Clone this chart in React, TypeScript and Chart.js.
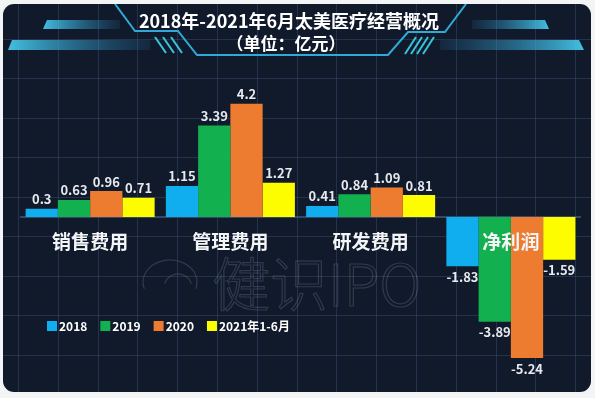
import React, { useEffect, useRef } from "react";
import { Chart, registerables } from "chart.js";

Chart.register(...registerables);

const categories = ["销售费用", "管理费用", "研发费用", "净利润"];
const seriesNames = ["2018", "2019", "2020", "2021年1-6月"];
const values2018 = [0.3, 1.15, 0.41, -1.83];
const values2019 = [0.63, 3.39, 0.84, -3.89];
const values2020 = [0.96, 4.2, 1.09, -5.24];
const values2021H1 = [0.71, 1.27, 0.81, -1.59];
const seriesColors = ["#10aeee", "#13b04f", "#ed7b30", "#fdfd00"];
const titleText = "2018年-2021年6月太美医疗经营概况";
const subtitleText = "（单位：亿元）";

const FONT = '"Noto Sans CJK SC", "Noto Sans", sans-serif';

function roundRect(ctx: CanvasRenderingContext2D, x: number, y: number, w: number, h: number, r: number) {
  ctx.beginPath();
  ctx.moveTo(x + r, y);
  ctx.lineTo(x + w - r, y);
  ctx.arcTo(x + w, y, x + w, y + r, r);
  ctx.lineTo(x + w, y + h - r);
  ctx.arcTo(x + w, y + h, x + w - r, y + h, r);
  ctx.lineTo(x + r, y + h);
  ctx.arcTo(x, y + h, x, y + h - r, r);
  ctx.lineTo(x, y + r);
  ctx.arcTo(x, y, x + r, y, r);
  ctx.closePath();
}

const backgroundPlugin = {
  id: "bgDecor",
  beforeDraw(chart: any) {
    const ctx: CanvasRenderingContext2D = chart.ctx;
    const W = chart.width;
    const H = chart.height;
    ctx.save();
    ctx.fillStyle = "#f3f4f6";
    ctx.fillRect(0, 0, W, H);
    roundRect(ctx, 3, 4, W - 7, H - 10, 11);
    ctx.fillStyle = "#111a2b";
    ctx.fill();
    ctx.save();
    ctx.clip();
    // grid
    ctx.strokeStyle = "rgba(60,82,120,0.45)";
    ctx.lineWidth = 1;
    for (let x = 18; x < W; x += 39.8) {
      ctx.beginPath();
      ctx.moveTo(Math.round(x) + 0.5, 0);
      ctx.lineTo(Math.round(x) + 0.5, H);
      ctx.stroke();
    }
    for (let y = 38.5; y < H; y += 39.5) {
      ctx.beginPath();
      ctx.moveTo(0, Math.round(y) + 0.5);
      ctx.lineTo(W, Math.round(y) + 0.5);
      ctx.stroke();
    }
    const barGrad = (x0: number, x1: number, rev: boolean) => {
      const g = ctx.createLinearGradient(x0, 0, x1, 0);
      if (!rev) {
        g.addColorStop(0, "rgba(70,200,235,0.95)");
        g.addColorStop(1, "rgba(40,120,170,0.15)");
      } else {
        g.addColorStop(0, "rgba(40,120,170,0.15)");
        g.addColorStop(1, "rgba(70,200,235,0.95)");
      }
      return g;
    };
    ctx.beginPath();
    ctx.moveTo(47, 20); ctx.lineTo(120, 20); ctx.lineTo(120, 29); ctx.lineTo(43, 29); ctx.closePath();
    ctx.fillStyle = barGrad(43, 120, false); ctx.fill();
    ctx.beginPath();
    ctx.moveTo(12, 40); ctx.lineTo(150, 40); ctx.lineTo(150, 50); ctx.lineTo(8, 50); ctx.closePath();
    ctx.fillStyle = barGrad(8, 150, false); ctx.fill();
    ctx.beginPath();
    ctx.moveTo(472, 20); ctx.lineTo(545, 20); ctx.lineTo(549, 29); ctx.lineTo(472, 29); ctx.closePath();
    ctx.fillStyle = barGrad(472, 549, true); ctx.fill();
    ctx.beginPath();
    ctx.moveTo(440, 40); ctx.lineTo(579, 40); ctx.lineTo(584, 50); ctx.lineTo(440, 50); ctx.closePath();
    ctx.fillStyle = barGrad(440, 584, true); ctx.fill();
    // outline
    ctx.strokeStyle = "#2fa9d6";
    ctx.lineWidth = 2;
    ctx.beginPath();
    ctx.moveTo(115, 4);
    ctx.lineTo(135, 31);
    ctx.lineTo(178, 31);
    ctx.lineTo(197, 55);
    ctx.lineTo(388, 55);
    ctx.lineTo(408, 32);
    ctx.lineTo(445, 32);
    ctx.lineTo(466, 4);
    ctx.stroke();
    ctx.strokeStyle = "#38c4df";
    for (let i = 0; i < 3; i++) {
      const x = 155 + i * 8;
      ctx.beginPath();
      ctx.moveTo(x, 37);
      ctx.lineTo(x + 11, 53);
      ctx.stroke();
    }
    for (let i = 0; i < 4; i++) {
      const x = 416 + i * 6;
      ctx.beginPath();
      ctx.moveTo(x, 37);
      ctx.lineTo(x - 11, 54);
      ctx.stroke();
    }
    // watermark
    ctx.strokeStyle = "rgba(190,205,230,0.18)";
    ctx.lineWidth = 1.2;
    ctx.beginPath();
    ctx.ellipse(170, 282, 27, 22, 0, Math.PI * 0.9, Math.PI * 2.1);
    ctx.stroke();
    ctx.beginPath();
    ctx.arc(178, 288, 14, Math.PI * 1.1, Math.PI * 1.9);
    ctx.stroke();
    ctx.font = `200 58px ${FONT}`;
    ctx.textAlign = "left";
    ctx.textBaseline = "alphabetic";
    ctx.strokeText("健识IPO", 212, 306);
    ctx.restore();

    // title
    ctx.fillStyle = "#ffffff";
    ctx.textAlign = "center";
    ctx.textBaseline = "middle";
    ctx.font = `bold 18px ${FONT}`;
    ctx.fillText(titleText, 289, 21);
    ctx.font = `bold 17px ${FONT}`;
    ctx.fillText(subtitleText, 286, 44);

    const y0 = chart.scales.y.getPixelForValue(0);
    ctx.strokeStyle = "#3f5a80";
    ctx.lineWidth = 1.5;
    ctx.beginPath();
    ctx.moveTo(chart.chartArea.left, y0);
    ctx.lineTo(chart.chartArea.right, y0);
    ctx.stroke();
    ctx.restore();
  },
  afterDatasetsDraw(chart: any) {
    const ctx: CanvasRenderingContext2D = chart.ctx;
    ctx.save();
    ctx.font = `bold 13px ${FONT}`;
    ctx.fillStyle = "#e6e9ee";
    ctx.textAlign = "center";
    chart.data.datasets.forEach((ds: any, di: number) => {
      const meta = chart.getDatasetMeta(di);
      meta.data.forEach((el: any, i: number) => {
        const v = ds.data[i];
        if (v >= 0) {
          ctx.textBaseline = "bottom";
          ctx.fillText(String(v), el.x, el.y - 3);
        } else {
          ctx.textBaseline = "top";
          ctx.fillText(String(v), el.x, el.y + 4);
        }
      });
    });
    const y0 = chart.scales.y.getPixelForValue(0);
    ctx.font = `bold 19px ${FONT}`;
    ctx.fillStyle = "#f4f5f7";
    ctx.textBaseline = "middle";
    categories.forEach((c, i) => {
      const x = chart.scales.x.getPixelForValue(i);
      ctx.fillText(c, x, y0 + 25);
    });
    ctx.font = `bold 12px ${FONT}`;
    ctx.textAlign = "left";
    ctx.textBaseline = "middle";
    let lx = 47;
    const ly = 326;
    chart.data.datasets.forEach((ds: any) => {
      ctx.fillStyle = ds.backgroundColor;
      ctx.fillRect(lx, ly - 5, 10, 10);
      ctx.fillStyle = "#ffffff";
      ctx.fillText(ds.label, lx + 12, ly);
      lx += 12 + ctx.measureText(ds.label).width + 13;
    });
    ctx.restore();
  },
};

export default function App() {
  const ref = useRef<HTMLCanvasElement | null>(null);
  useEffect(() => {
    if (!ref.current) return;
    const seriesValues = [values2018, values2019, values2020, values2021H1];
    const chart = new Chart(ref.current, {
      type: "bar",
      data: {
        labels: categories,
        datasets: seriesNames.map((name, i) => ({
          label: name,
          data: seriesValues[i],
          backgroundColor: seriesColors[i],
          borderWidth: 0,
          categoryPercentage: 0.92,
          barPercentage: 1,
        })),
      },
      options: {
        responsive: false,
        animation: false,
        layout: { padding: { left: 20, right: 14, top: 93, bottom: 19.4 } },
        plugins: {
          legend: { display: false },
          title: { display: false },
          tooltip: { enabled: false },
        },
        scales: {
          x: { display: false },
          y: { display: false, min: -6, max: 4.6 },
        },
      },
      plugins: [backgroundPlugin],
    });
    return () => chart.destroy();
  }, []);
  return (
    <div style={{ position: "absolute", left: 0, top: 0, width: 595, height: 398 }}>
      <canvas ref={ref} width={595} height={398} style={{ display: "block" }} />
    </div>
  );
}
